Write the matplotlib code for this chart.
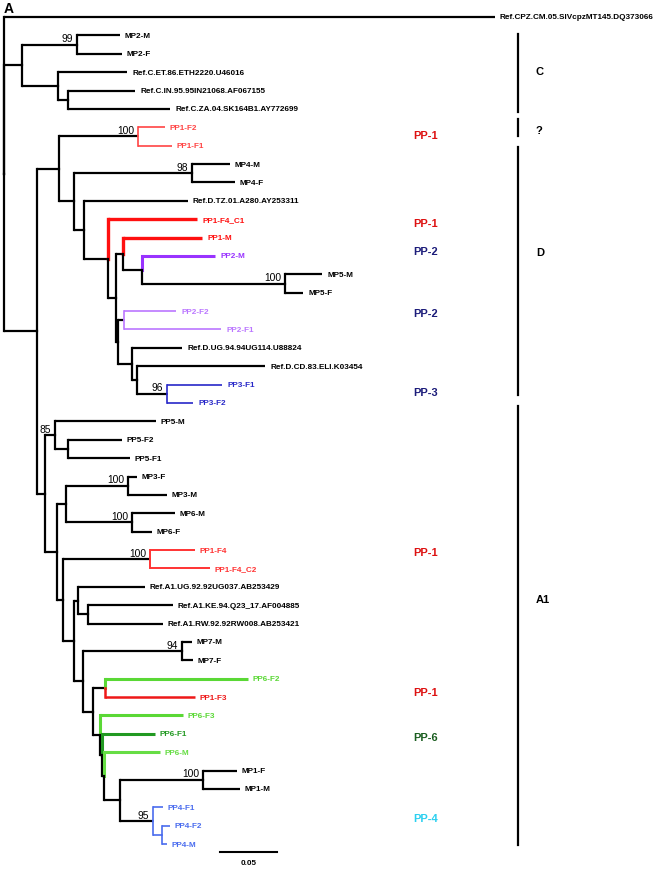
import matplotlib
matplotlib.use('Agg')
import matplotlib.pyplot as plt

plt.rcParams['font.family'] = ['Liberation Sans', 'DejaVu Sans']

# tree data (branch lengths in substitutions/site, internal labels = bootstrap)
outgroup = "Ref.CPZ.CM.05.SIVcpzMT145.DQ373066:0.4307"

clade_C = ("((MP2-M:0.0377,MP2-F:0.0395)99:0.0482,"
           "(Ref.C.ET.86.ETH2220.U46016:0.0605,"
           "(Ref.C.IN.95.95IN21068.AF067155:0.0588,Ref.C.ZA.04.SK164B1.AY772699:0.0895):0.0088):0.0316):0.0158")

clade_D = ("((PP1-F2:0.0237,PP1-F1:0.0298)100:0.0693,"
           "((MP4-M:0.0333,MP4-F:0.0377)98:0.1035,"
           "(Ref.D.TZ.01.A280.AY253311:0.0912,"
           "(PP1-F4_C1:0.0781,"
           "((PP1-M:0.0693,(PP2-M:0.0640,(MP5-M:0.0325,MP5-F:0.0158)100:0.1254):0.0167):0.0061,"
           "((PP2-F2:0.0456,PP2-F1:0.0851):0.0053,"
           "(Ref.D.UG.94.94UG114.U88824:0.0439,(Ref.D.CD.83.ELI.K03454:0.1123,"
           "(PP3-F1:0.0482,PP3-F2:0.0228)96:0.0263):0.0044):0.0123"
           "):0.0018):0.0070):0.0211):0.0088):0.0132):0.0193")

clade_A1 = ("((PP5-M:0.0886,(PP5-F2:0.0474,PP5-F1:0.0544):0.0114)85:0.0088,"
            "(((MP3-F:0.0079,MP3-M:0.0342)100:0.0544,(MP6-M:0.0377,MP6-F:0.0175)100:0.0579):0.0079,"
            "((PP1-F4:0.0395,PP1-F4_C2:0.0526)100:0.0763,"
            "((Ref.A1.UG.92.92UG037.AB253429:0.0588,(Ref.A1.KE.94.Q23_17.AF004885:0.0746,"
            "Ref.A1.RW.92.92RW008.AB253421:0.0658):0.0088):0.0035,"
            "((MP7-M:0.0088,MP7-F:0.0096)94:0.0868,"
            "((PP6-F2:0.1254,PP1-F3:0.0789):0.0105,"
            "(PP6-F3:0.0728,(PP6-F1:0.0465,(PP6-M:0.0491,"
            "((MP1-F:0.0298,MP1-M:0.0325)100:0.0728,(PP4-F1:0.0088,(PP4-F2:0.0070,PP4-M:0.0044):0.0079)95:0.0289):0.0140"
            "):0.0018):0.0018):0.0061):0.0088):0.0079):0.0096):0.0053):0.0105):0.0070")

newick = "(" + outgroup + "," + clade_C + ",(" + clade_D + "," + clade_A1 + "):0.0289);"

# coloured leaves
colored_leaves = ['PP1-F2', 'PP1-F1', 'PP1-F4_C1', 'PP1-M', 'PP2-M', 'PP2-F2', 'PP2-F1',
                  'PP3-F1', 'PP3-F2', 'PP1-F4', 'PP1-F4_C2', 'PP6-F2', 'PP1-F3',
                  'PP6-F3', 'PP6-F1', 'PP6-M', 'PP4-F1', 'PP4-F2', 'PP4-M']
colored_leaf_colors = ['#ff4444', '#ff4444', '#ff1010', '#ff1010', '#9933ff', '#bb77ff', '#bb77ff',
                       '#2828c8', '#2828c8', '#ff3333', '#ff3333', '#5ad835', '#ee1818',
                       '#5ad835', '#229922', '#66dd44', '#4a6cee', '#4a6cee', '#4a6cee']
colored_leaf_widths = [1.2, 1.2, 2.4, 2.4, 2.2, 1.2, 1.2,
                       1.2, 1.2, 1.4, 1.4, 2.2, 1.8,
                       2.2, 2.2, 2.2, 1.2, 1.2, 1.2]

# group labels on the right
pp_labels = ['PP-1', 'PP-1', 'PP-2', 'PP-2', 'PP-3', 'PP-1', 'PP-1', 'PP-6', 'PP-4']
pp_label_rows = [6.42, 11.2, 12.73, 16.1, 20.4, 29.1, 36.7, 39.2, 43.6]
pp_label_colors = ['#dd1111', '#dd1111', '#1c1c7a', '#1c1c7a', '#1c1c7a',
                   '#dd1111', '#dd1111', '#1b5e20', '#2bd0f0']

clade_names = ['C', '?', 'D', 'A1']
clade_spans = [(0.92, 5.17), (5.55, 6.47), (7.07, 20.57), (21.16, 45.05)]
clade_label_rows = [2.94, 6.15, 12.79, 31.67]

scale_length = 0.05


def parse_newick(s):
    pos = 0

    def node():
        nonlocal pos
        n = {'children': [], 'name': '', 'length': 0.0}
        if s[pos] == '(':
            pos += 1
            while True:
                n['children'].append(node())
                if s[pos] == ',':
                    pos += 1
                    continue
                pos += 1  # ')'
                break
        start = pos
        while s[pos] not in ':,();':
            pos += 1
        n['name'] = s[start:pos]
        if s[pos] == ':':
            pos += 1
            start = pos
            while s[pos] not in ',();':
                pos += 1
            n['length'] = float(s[start:pos])
        return n

    return node()


root = parse_newick(newick)
leaves = []


def layout(n, x, parent):
    n['x'] = x
    n['parent'] = parent
    if not n['children']:
        n['y'] = len(leaves)
        leaves.append(n)
    else:
        for c in n['children']:
            layout(c, x + c['length'], n)
        n['y'] = (n['children'][0]['y'] + n['children'][-1]['y']) / 2


layout(root, 0.0, None)

style = {name: (c, w) for name, c, w in zip(colored_leaves, colored_leaf_colors, colored_leaf_widths)}


def leaf_list(n):
    if not n['children']:
        return [n['name']]
    out = []
    for c in n['children']:
        out += leaf_list(c)
    return out


def clade_color(n):
    cols = set(style.get(name, ('k', 0))[0] for name in leaf_list(n))
    if len(cols) == 1 and 'k' not in cols:
        return cols.pop()
    return None


def branch_style(n):
    if not n['children']:
        return style.get(n['name'], ('black', 1.6))
    c = clade_color(n)
    if c is not None and n['parent'] is not None and clade_color(n['parent']) == c:
        return c, 1.2
    return 'black', 1.6


# px helpers: 1 px in data units
px_x = scale_length / 57.0
px_y = 1 / 18.38

fig = plt.figure(figsize=(6.58, 8.70), dpi=100)
ax = fig.add_axes([0, 0, 1, 1])
ax.set_xlim(-4 * px_x, 654 * px_x)
ax.set_ylim((870 - 18) * px_y, -18 * px_y)
ax.axis('off')


def draw(n):
    for c in n['children']:
        col, lw = branch_style(c)
        # vertical piece at parent, horizontal branch to child
        ax.plot([n['x'], n['x']], [n['y'], c['y']], color=col, lw=lw, solid_capstyle='projecting')
        ax.plot([n['x'], c['x']], [c['y'], c['y']], color=col, lw=lw, solid_capstyle='butt')
        draw(c)
    if not n['children']:
        col = style.get(n['name'], ('black', 1))[0]
        ax.text(n['x'] + 5 * px_x, n['y'], n['name'], fontsize=5.85, fontweight='bold',
                color=col, va='center', ha='left')
    elif n['name'] and n['parent'] is not None:
        ax.text(n['x'] - 4 * px_x, n['y'] - 1.5 * px_y, n['name'], fontsize=7.4,
                ha='right', va='bottom')


draw(root)

# group labels
for txt, row, col in zip(pp_labels, pp_label_rows, pp_label_colors):
    ax.text(409 * px_x, row, txt, color=col, fontsize=8, fontweight='bold', va='center', ha='left')

# clade bars
for name, (y0, y1), row in zip(clade_names, clade_spans, clade_label_rows):
    ax.plot([514 * px_x, 514 * px_x], [y0, y1], color='black', lw=1.6)
    ax.text(532 * px_x, row, name, fontsize=8, fontweight='bold', va='center', ha='left')

# scale bar
sb_y = (853 - 18) * px_y
ax.plot([216 * px_x, 216 * px_x + scale_length], [sb_y, sb_y], color='black', lw=1.5)
ax.text(216 * px_x + scale_length / 2, sb_y + 7 * px_y, '0.05', fontsize=5.8,
        fontweight='bold', ha='center', va='top')

fig.text(0.005, 0.998, 'A', fontsize=10, fontweight='bold', va='top', ha='left')

fig.savefig('out.png', dpi=100)
